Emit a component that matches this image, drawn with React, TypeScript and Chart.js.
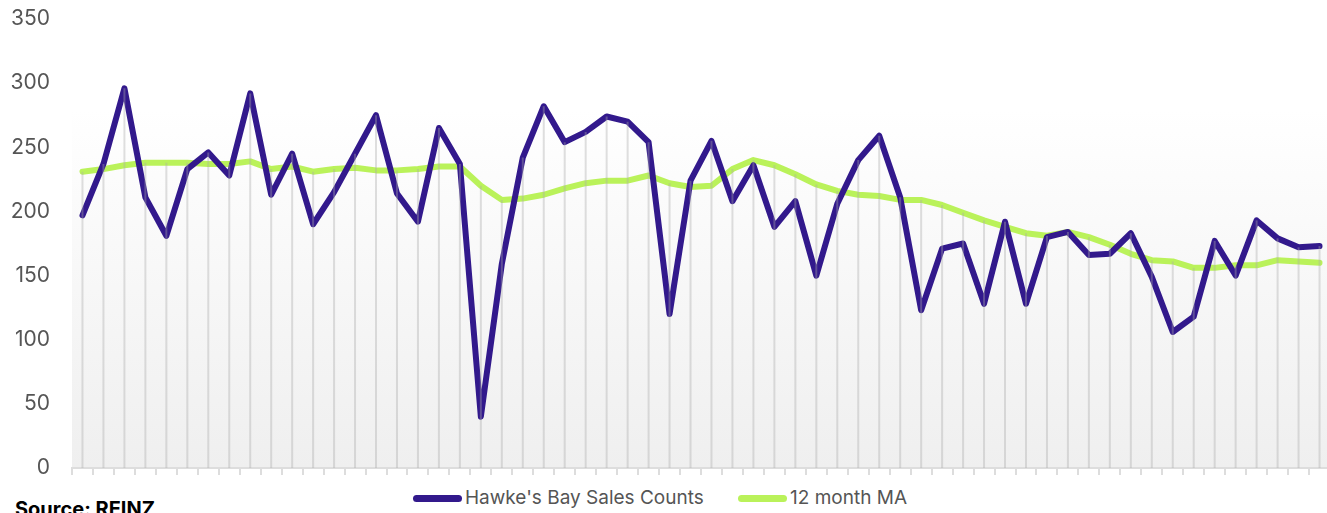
import React, { useEffect, useRef } from "react";
import { Chart, registerables } from "chart.js";

Chart.register(...registerables);

const months = [
  "Sep-18", "Oct-18", "Nov-18", "Dec-18",
  "Jan-19", "Feb-19", "Mar-19", "Apr-19", "May-19", "Jun-19", "Jul-19", "Aug-19", "Sep-19", "Oct-19", "Nov-19", "Dec-19",
  "Jan-20", "Feb-20", "Mar-20", "Apr-20", "May-20", "Jun-20", "Jul-20", "Aug-20", "Sep-20", "Oct-20", "Nov-20", "Dec-20",
  "Jan-21", "Feb-21", "Mar-21", "Apr-21", "May-21", "Jun-21", "Jul-21", "Aug-21", "Sep-21", "Oct-21", "Nov-21", "Dec-21",
  "Jan-22", "Feb-22", "Mar-22", "Apr-22", "May-22", "Jun-22", "Jul-22", "Aug-22", "Sep-22", "Oct-22", "Nov-22", "Dec-22",
  "Jan-23", "Feb-23", "Mar-23", "Apr-23", "May-23", "Jun-23", "Jul-23", "Aug-23",
];

const salesCounts = [
  197, 237, 296, 211, 181, 233, 246, 228, 292, 213, 245, 190,
  215, 245, 275, 214, 192, 265, 237, 40, 159, 242, 282, 254, 262, 274, 270, 254, 120,
  224, 255, 208, 236, 188, 208, 150, 206, 240, 259, 211, 123, 171, 175, 128,
  192, 128, 180, 184, 166, 167, 183, 149, 106, 118, 177, 150, 193, 179, 172, 173,
];

const movingAverage = [
  231, 233, 236, 238, 238, 238, 237, 237, 239, 233, 235, 231,
  233, 234, 232, 232, 233, 235, 235, 220, 209, 210, 213, 218, 222, 224, 224, 228, 222,
  219, 220, 233, 240, 236, 229, 221, 216, 213, 212, 209, 209, 205, 199, 193,
  188, 183, 181, 184, 180, 174, 167, 162, 161, 156, 156, 158, 158, 162, 161, 160,
];

const yMin = 0;
const yMax = 350;
const yStep = 50;

const seriesNames = ["Hawke's Bay Sales Counts", "12 month MA"];
const seriesColors = ["#32198C", "#BAF25A"];
const sourceNote = "Source: REINZ";

const FONT = "Inter, 'Noto Sans', sans-serif";

const plotBackground = {
  id: "plotBackground",
  beforeDraw(chart: any) {
    const { ctx, chartArea: a } = chart;
    if (!a) return;
    const g = ctx.createLinearGradient(0, a.top, 0, a.bottom);
    g.addColorStop(0, "#ffffff");
    g.addColorStop(0.2, "#ffffff");
    g.addColorStop(1, "#efefef");
    ctx.save();
    ctx.fillStyle = g;
    ctx.fillRect(a.left, a.top, a.right - a.left, a.bottom - a.top);
    ctx.restore();
  },
};

const dropLines = {
  id: "dropLines",
  afterDatasetsDraw(chart: any) {
    const { ctx, chartArea: a } = chart;
    const metas = chart.getSortedVisibleDatasetMetas();
    if (!metas.length) return;
    const n = metas[0].data.length;
    ctx.save();
    ctx.strokeStyle = "rgba(170,170,170,0.38)";
    ctx.lineWidth = 2;
    for (let i = 0; i < n; i++) {
      const x = metas[0].data[i].x;
      let top = a.bottom;
      metas.forEach((m: any) => {
        const el = m.data[i];
        if (el && el.y < top) top = el.y;
      });
      ctx.beginPath();
      ctx.moveTo(x, top);
      ctx.lineTo(x, a.bottom);
      ctx.stroke();
    }
    ctx.restore();
  },
};

export default function App() {
  const canvasRef = useRef<HTMLCanvasElement | null>(null);

  useEffect(() => {
    document.body.style.margin = "0";
    const canvas = canvasRef.current;
    if (!canvas) return;
    const chart = new Chart(canvas, {
      type: "line",
      data: {
        labels: months,
        datasets: [
          {
            label: seriesNames[0],
            data: salesCounts,
            borderColor: seriesColors[0],
            backgroundColor: seriesColors[0],
            borderWidth: 6,
            pointRadius: 0,
            pointHoverRadius: 0,
            tension: 0,
            borderJoinStyle: "round",
            borderCapStyle: "round",
            fill: false,
          },
          {
            label: seriesNames[1],
            data: movingAverage,
            borderColor: seriesColors[1],
            backgroundColor: seriesColors[1],
            borderWidth: 6,
            pointRadius: 0,
            pointHoverRadius: 0,
            tension: 0,
            borderJoinStyle: "round",
            borderCapStyle: "round",
            fill: false,
          },
        ],
      },
      options: {
        animation: false,
        responsive: true,
        maintainAspectRatio: false,
        layout: { padding: { top: 19, bottom: 6, left: 0, right: 0 } },
        plugins: {
          legend: { display: false },
          tooltip: { enabled: false },
        },
        scales: {
          x: {
            type: "category",
            offset: true,
            grid: {
              display: true,
              offset: true,
              drawOnChartArea: false,
              drawTicks: true,
              tickLength: 7,
              color: "#dddddd",
              lineWidth: 2,
            },
            border: { display: true, color: "#dddddd", width: 2 },
            ticks: { display: false },
          },
          y: {
            min: yMin,
            max: yMax,
            ticks: {
              stepSize: yStep,
              padding: 22,
              color: "#555555",
              font: { family: FONT, size: 21 },
            },
            grid: { display: false, drawTicks: false },
            border: { display: false },
            afterFit(scale: any) {
              scale.width = 72;
              scale.paddingTop = 12;
              scale.paddingBottom = 12;
            },
          },
        },
      },
      plugins: [plotBackground, dropLines],
    });
    return () => chart.destroy();
  }, []);

  const legendText: React.CSSProperties = {
    fontFamily: FONT,
    fontSize: 19,
    color: "#555555",
    lineHeight: "24px",
    whiteSpace: "nowrap",
  };
  const sample = (color: string): React.CSSProperties => ({
    width: 49,
    height: 7,
    borderRadius: 4,
    background: color,
    marginRight: 3,
    flex: "none",
  });

  return (
    <div style={{ position: "relative", width: 1327, height: 513, overflow: "hidden", background: "#ffffff" }}>
      <div style={{ position: "absolute", left: 0, top: 0, width: 1330, height: 481 }}>
        <canvas ref={canvasRef} />
      </div>
      <div style={{ position: "absolute", left: 413, top: 486, display: "flex", alignItems: "center" }}>
        <span style={sample(seriesColors[0])} />
        <span style={legendText}>{seriesNames[0]}</span>
      </div>
      <div style={{ position: "absolute", left: 738, top: 486, display: "flex", alignItems: "center" }}>
        <span style={sample(seriesColors[1])} />
        <span style={legendText}>{seriesNames[1]}</span>
      </div>
      <div
        style={{
          position: "absolute",
          left: 15,
          top: 499,
          fontFamily: FONT,
          fontWeight: 700,
          fontSize: 20,
          lineHeight: "20px",
          color: "#000000",
          whiteSpace: "nowrap",
        }}
      >
        {sourceNote}
      </div>
    </div>
  );
}
